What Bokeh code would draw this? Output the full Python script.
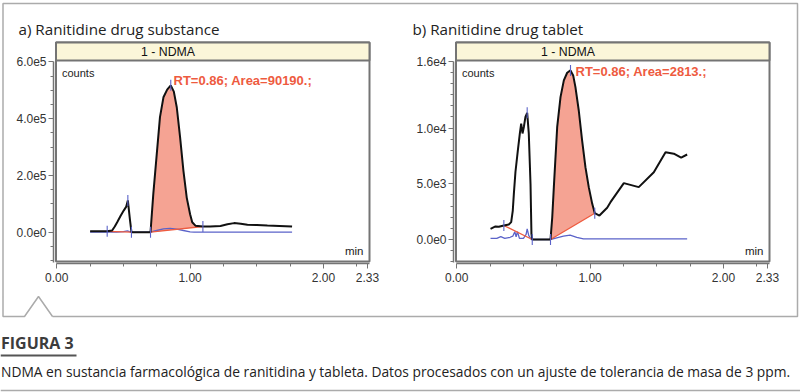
import math
from bokeh.plotting import figure
from bokeh.models import Range1d, LinearAxis, FixedTicker, NumeralTickFormatter, Label
from bokeh.embed import file_html
from bokeh.resources import INLINE

# ---------------- data ----------------
# Panel a) Ranitidine drug substance : trace (black)
A_T = [0.25, 0.30, 0.35, 0.378, 0.415, 0.435, 0.453, 0.478, 0.503, 0.52,
       0.533, 0.548, 0.56, 0.63, 0.703, 0.724, 0.75, 0.774, 0.80, 0.828,
       0.855, 0.878, 0.90, 0.925, 0.95, 0.975, 1.0, 1.016, 1.04, 1.096,
       1.15, 1.228, 1.28, 1.33, 1.38, 1.43, 1.50, 1.58, 1.67, 1.765]
A_Y = [3e3, 3e3, 3e3, 3e3, 6e3, 2e4, 3.5e4, 5.7e4, 7.7e4, 8.9e4,
       1.12e5, 4.7e4, 0, 0, 0, 1.35e5, 2.76e5, 4.05e5, 4.75e5, 5.02e5,
       5.17e5, 4.95e5, 4.4e5, 3.34e5, 2.16e5, 1.21e5, 6.3e4, 3.5e4, 2.3e4, 2.0e4,
       2.0e4, 2.2e4, 2.8e4, 3.2e4, 3.0e4, 2.6e4, 2.5e4, 2.35e4, 2.2e4, 2.0e4]
# second (blue) trace
A_BT = [0.25, 0.45, 0.50, 0.53, 0.545, 0.56, 0.70, 0.75, 0.80, 0.85, 0.90, 0.95, 1.0, 1.03, 1.765]
A_BY = [0, 0, 2e3, 5e3, 2e3, 0, 0, 6e3, 1.15e4, 1.35e4, 1.1e4, 6e3, 1.5e3, 0, 0]
# integration baselines (red)
A_BASE1_T = [0.378, 0.56]
A_BASE1_Y = [3e3, 0]
A_PEAK_T = [0.703, 1.096]
A_PEAK_Y = [0, 2.0e4]
# integration / apex markers (blue ticks)
A_MARK_T = [0.378, 0.533, 0.56, 0.703, 1.096, 0.855]
A_MARK_Y = [3e3, 1.12e5, 0, 0, 2.0e4, 5.17e5]
A_RT_TEXT = "RT=0.86; Area=90190.;"

# Panel b) Ranitidine drug tablet
B_T = [0.253, 0.29, 0.315, 0.353, 0.39, 0.408, 0.42, 0.428, 0.44, 0.458,
       0.473, 0.483, 0.493, 0.503, 0.515, 0.528, 0.54, 0.553, 0.56, 0.566,
       0.63, 0.703, 0.716, 0.728, 0.753, 0.778, 0.803, 0.828, 0.853, 0.873,
       0.89, 0.915, 0.94, 0.965, 0.99, 1.016, 1.035, 1.07, 1.128, 1.153,
       1.253, 1.365, 1.478, 1.566, 1.628, 1.683, 1.728]
B_Y = [960, 1170, 1150, 1260, 1350, 1560, 2600, 4100, 6060, 8010,
       9520, 10400, 9520, 10100, 11000, 11370, 9520, 5010, 510, 0,
       0, 0, 2000, 4700, 10080, 12780, 14280, 14970, 15180, 14730,
       13680, 11580, 8890, 6490, 4700, 3200, 2360, 2150, 2850, 3350,
       5060, 4700, 6040, 7840, 7700, 7340, 7630]
B_BT = [0.253, 0.30, 0.33, 0.36, 0.40, 0.42, 0.435, 0.445, 0.455, 0.47, 0.50,
        0.52, 0.528, 0.54, 0.56, 0.70, 0.75, 0.80, 0.85, 0.90, 0.95, 1.728]
B_BY = [100, 100, 250, 100, 200, 300, 700, 250, 700, 100, 100,
        450, 950, 350, 0, 0, 150, 300, 400, 200, 50, 50]
B_BASE1_T = [0.353, 0.566]
B_BASE1_Y = [1260, 0]
B_PEAK_T = [0.703, 1.035]
B_PEAK_Y = [0, 2360]
B_MARK_T = [0.353, 0.528, 0.566, 0.703, 1.035, 0.853]
B_MARK_Y = [1260, 11370, 0, 0, 2360, 15180]
B_RT_TEXT = "RT=0.86; Area=2813.;"

# axes ticks
X_TICKS = [0.0, 1.0, 2.0, 2.33]
X_MINOR = [0.25, 0.5, 0.75, 1.25, 1.5, 1.75, 2.25]
A_YTICKS = [0, 2e5, 4e5, 6e5]
A_YLABELS = ["0.0e0", "2.0e5", "4.0e5", "6.0e5"]
A_YMINOR = [-1e5, -5e4, 5e4, 1e5, 1.5e5, 2.5e5, 3e5, 3.5e5, 4.5e5, 5e5, 5.5e5]
B_YTICKS = [0, 5e3, 1e4, 1.6e4]
B_YLABELS = ["0.0e0", "5.0e3", "1.0e4", "1.6e4"]
B_YMINOR = [-2e3, -1e3, 1e3, 2e3, 3e3, 4e3, 6e3, 7e3, 8e3, 9e3, 1.1e4, 1.2e4, 1.3e4, 1.4e4, 1.5e4]

TITLE_A = "a) Ranitidine drug substance"
TITLE_B = "b) Ranitidine drug tablet"
HEADER = "1 - NDMA"
FIG_LABEL = "FIGURA 3"
CAPTION = ("NDMA en sustancia farmacológica de ranitidina y tableta. "
           "Datos procesados con un ajuste de tolerancia de masa de 3 ppm.")

# ---------------- styles ----------------
FILL = "#F5A393"
RED = "#EE5B3F"
BLUE = "#5B63C9"
BLACK = "#111111"
BOXGRAY = "#747474"
HEADFILL = "#FBF6D9"
FRAMEGRAY = "#ababab"
AXFONT = "Liberation Sans"

# ---------------- canvas (reference pixel coordinates) ----------------
W, H = 800, 392
OX, OY = 0, 0

p = figure(width=W, height=H, x_range=Range1d(OX, OX + W), y_range=Range1d(OY + H, OY),
           x_axis_location=None, y_axis_location=None, toolbar_location=None,
           output_backend="svg", min_border=0, outline_line_color=None)
p.grid.visible = False
p.background_fill_color = "white"
p.border_fill_color = "white"

# outer frame with notch
p.line([52, 797, 797, 2.5, 2.5, 24, 38, 52],
       [316, 316, 3, 3, 316, 316, 296, 316],
       line_color=FRAMEGRAY, line_width=1.5)

LAYOUTS = {
    "a": dict(x0=56.3, sx=133.3, y0=231.7, sy=56.8 / 2e5, left=55.5, right=369.0,
              top=42.0, head=60.0, bottom=261.0, yaxis=53.0, xaxis=263.0, tx=18),
    "b": dict(x0=456.3, sx=133.3, y0=239.0, sy=55.7 / 5e3, left=455.5, right=769.0,
              top=42.0, head=60.0, bottom=261.0, yaxis=453.0, xaxis=263.0, tx=412),
}

PANELS = {
    "a": dict(title=TITLE_A, t=A_T, y=A_Y, bt=A_BT, by=A_BY,
              b1t=A_BASE1_T, b1y=A_BASE1_Y, pkt=A_PEAK_T, pky=A_PEAK_Y,
              mt=A_MARK_T, my=A_MARK_Y, rt=A_RT_TEXT, rtpos=(173, 80),
              yt=A_YTICKS, yl=A_YLABELS, ym=A_YMINOR),
    "b": dict(title=TITLE_B, t=B_T, y=B_Y, bt=B_BT, by=B_BY,
              b1t=B_BASE1_T, b1y=B_BASE1_Y, pkt=B_PEAK_T, pky=B_PEAK_Y,
              mt=B_MARK_T, my=B_MARK_Y, rt=B_RT_TEXT, rtpos=(575, 71),
              yt=B_YTICKS, yl=B_YLABELS, ym=B_YMINOR),
}

for key in ("a", "b"):
    L = LAYOUTS[key]
    D = PANELS[key]
    xn, yn = "x" + key, "y" + key
    tx = lambda px, L=L: (px - L["x0"]) / L["sx"]
    vy = lambda py, L=L: (L["y0"] - py) / L["sy"]
    p.extra_x_ranges[xn] = Range1d(tx(OX), tx(OX + W))
    p.extra_y_ranges[yn] = Range1d(vy(OY + H), vy(OY))

    # title
    p.add_layout(Label(x=L["tx"], y=28, text=D["title"], text_baseline="middle",
                       text_font="Open Sans", text_font_size="15.2px", text_color="#222222"))
    # box + header band
    p.quad(left=L["left"], right=L["right"], top=L["top"], bottom=L["bottom"],
           fill_color="white", line_color=BOXGRAY, line_width=2)
    p.quad(left=L["left"], right=L["right"], top=L["top"], bottom=L["head"],
           fill_color=HEADFILL, line_color=BOXGRAY, line_width=2)
    p.add_layout(Label(x=L["left"] + 112, y=(L["top"] + L["head"]) / 2 + 0.5, text=HEADER,
                       text_align="center", text_baseline="middle", text_font=AXFONT,
                       text_font_size="12.3px", text_color="#111111"))
    p.add_layout(Label(x=L["left"] + 6, y=72, text="counts", text_baseline="middle",
                       text_font=AXFONT, text_font_size="11px", text_color="#222222"))
    p.add_layout(Label(x=L["right"] - 6, y=250, text="min", text_align="right",
                       text_baseline="middle", text_font=AXFONT, text_font_size="11.5px",
                       text_color="#222222"))

    # peak fill
    lo, hi = D["pkt"]
    fx = [t for t in D["t"] if lo <= t <= hi]
    fy = [y for t, y in zip(D["t"], D["y"]) if lo <= t <= hi]
    fx = fx + [D["pkt"][1], D["pkt"][0]]
    fy = fy + [D["pky"][1], D["pky"][0]]
    p.patch(fx, fy, fill_color=FILL, line_color=None, x_range_name=xn, y_range_name=yn)
    # blue trace
    p.line(D["bt"], D["by"], line_color=BLUE, line_width=1.3, x_range_name=xn, y_range_name=yn)
    # red baselines
    p.line(D["b1t"], D["b1y"], line_color=RED, line_width=1.3, x_range_name=xn, y_range_name=yn)
    p.line(D["pkt"], D["pky"], line_color=RED, line_width=1.3, x_range_name=xn, y_range_name=yn)
    # black trace
    p.line(D["t"], D["y"], line_color=BLACK, line_width=2, x_range_name=xn, y_range_name=yn)
    # markers
    p.scatter(D["mt"], D["my"], marker="dash", angle=math.pi / 2, size=11,
              line_color=BLUE, line_width=1.1, x_range_name=xn, y_range_name=yn)

    # RT label
    p.add_layout(Label(x=D["rtpos"][0], y=D["rtpos"][1], text=D["rt"], text_baseline="middle",
                       text_font=AXFONT, text_font_style="bold", text_font_size="13px",
                       text_color=RED))

    # y axis
    yax = LinearAxis(x_range_name=xn, y_range_name=yn, fixed_location=tx(L["yaxis"]),
                     bounds=(vy(L["bottom"] + 1), D["yt"][-1]),
                     ticker=FixedTicker(ticks=D["yt"], minor_ticks=D["ym"]))
    yax.major_label_overrides = {float(v): s for v, s in zip(D["yt"], D["yl"])}
    # x axis
    xax = LinearAxis(x_range_name=xn, y_range_name=yn, fixed_location=vy(L["xaxis"]),
                     bounds=(tx(L["left"]), tx(L["right"])),
                     ticker=FixedTicker(ticks=X_TICKS, minor_ticks=X_MINOR),
                     formatter=NumeralTickFormatter(format="0.00"))
    for ax in (yax, xax):
        ax.axis_line_color = BOXGRAY
        ax.axis_line_width = 1.5
        ax.major_tick_line_color = BOXGRAY
        ax.minor_tick_line_color = BOXGRAY
        ax.major_tick_in = 0
        ax.major_tick_out = 5
        ax.minor_tick_in = 0
        ax.minor_tick_out = 3
        ax.major_label_text_font = AXFONT
        ax.major_label_text_font_size = "12px"
        ax.major_label_text_color = "#333333"
    yax.major_label_standoff = 2
    xax.major_label_standoff = 4
    p.add_layout(yax, "left")
    p.add_layout(xax, "below")

# caption area
p.add_layout(Label(x=0.5, y=342, text=FIG_LABEL, text_baseline="middle", text_font="Open Sans",
                   text_font_style="bold", text_font_size="16px", text_color="#3c3c3c"))
p.line([0, 76], [355, 355], line_color="#555555", line_width=2)
p.add_layout(Label(x=0.5, y=371, text=CAPTION, text_baseline="middle", text_font="Open Sans",
                   text_font_size="13.8px", text_color="#222222"))
p.line([0, 800], [390, 390], line_color=FRAMEGRAY, line_width=1.5)

open("out.html", "w").write(file_html(p, INLINE))
